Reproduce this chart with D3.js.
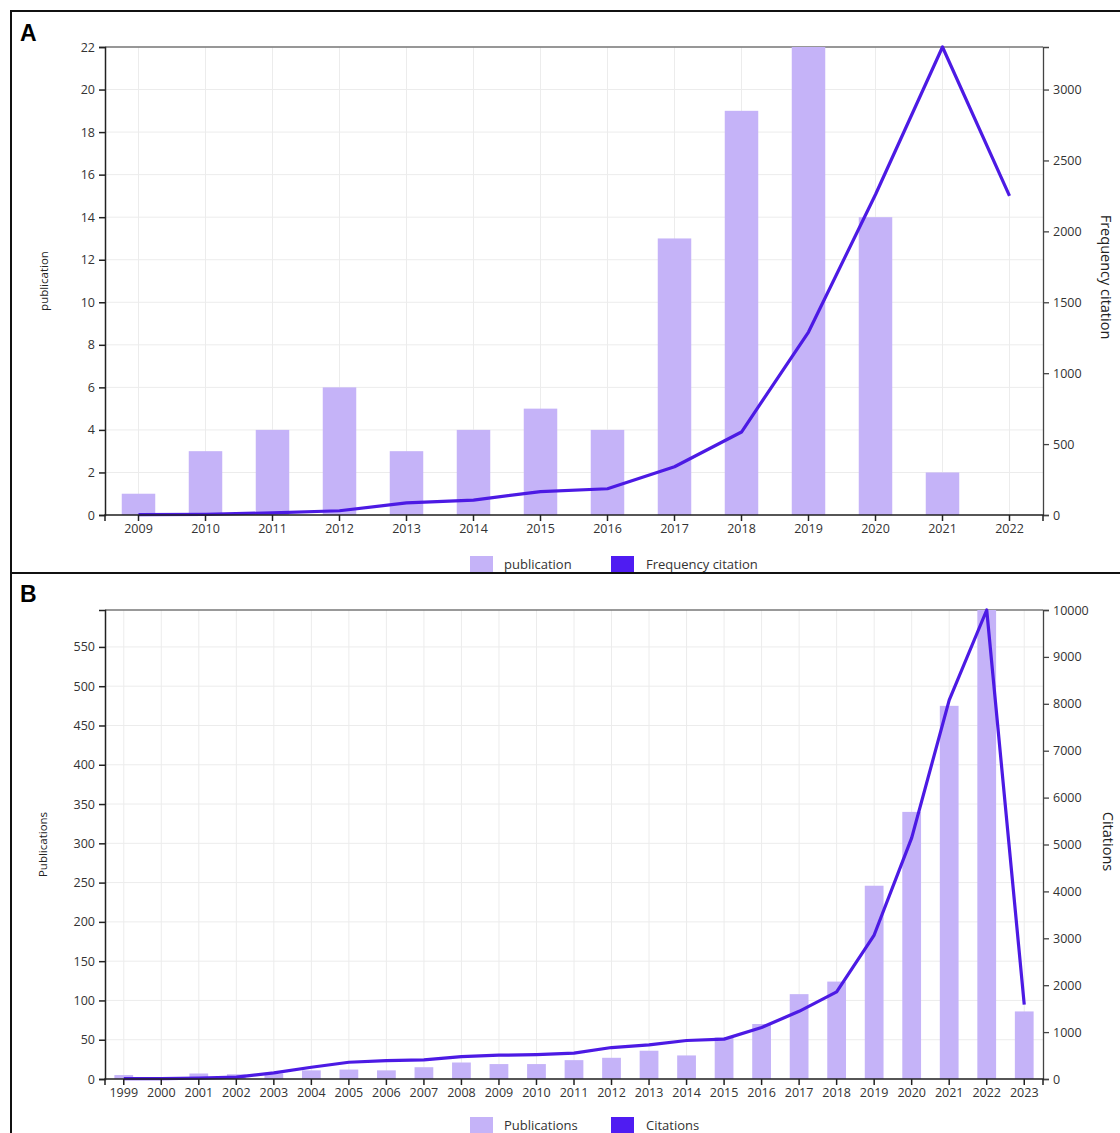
<!DOCTYPE html>
<html><head><meta charset="utf-8">
<script src="https://cdn.jsdelivr.net/npm/d3@7"></script>
<style>body{margin:0;background:#fff}svg{display:block}text{font-family:"Open Sans",sans-serif}</style>
</head><body><svg id="c" width="1120" height="1133"></svg>
<script>
const yearsA = ["2009","2010","2011","2012","2013","2014","2015","2016","2017","2018","2019","2020","2021","2022"];
const pubsA = [1,3,4,6,3,4,5,4,13,19,22,14,2,0];
const citesA = [2,5,15,30,85,105,165,185,340,585,1290,2260,3300,2250];
const leftTicksA = [0,2,4,6,8,10,12,14,16,18,20,22];
const rightTicksA = [0,500,1000,1500,2000,2500,3000];

const yearsB = ["1999","2000","2001","2002","2003","2004","2005","2006","2007","2008","2009","2010","2011","2012","2013","2014","2015","2016","2017","2018","2019","2020","2021","2022","2023"];
const pubsB = [5,1,7,6,7,11,12,11,15,21,19,19,24,27,36,30,53,70,108,124,246,340,475,597,86];
const citesB = [10,10,20,40,130,250,357,393,407,478,507,521,550,671,729,821,850,1100,1443,1857,3070,5140,8080,10000,1586];
const leftTicksB = [0,50,100,150,200,250,300,350,400,450,500,550];
const rightTicksB = [0,1000,2000,3000,4000,5000,6000,7000,8000,9000,10000];

const BAR = "#c5b3f8", LINE = "#4c1ae4";
const svg = d3.select("#c");

// panel frames
svg.append("rect").attr("x",11).attr("y",11).attr("width",1120).attr("height",562).attr("fill","none").attr("stroke","#111").attr("stroke-width",2);
svg.append("rect").attr("x",11).attr("y",573).attr("width",1120).attr("height",600).attr("fill","none").attr("stroke","#111").attr("stroke-width",2);

function panel(o){
  const g = svg.append("g");
  const x = d3.scaleBand().domain(o.years).range([o.x0,o.x1]).paddingInner(0.5).paddingOuter(0.25);
  const yL = d3.scaleLinear().domain([0,o.lmax]).range([o.yb,o.yt]);
  const yR = d3.scaleLinear().domain([0,o.rmax]).range([o.yb,o.yt]);
  // grid
  g.append("g").selectAll("line").data(o.lticks).join("line")
    .attr("x1",o.x0).attr("x2",o.x1).attr("y1",d=>yL(d)).attr("y2",d=>yL(d))
    .attr("stroke","#ececec");
  g.append("g").selectAll("line").data(o.years).join("line")
    .attr("x1",d=>x(d)+x.bandwidth()/2).attr("x2",d=>x(d)+x.bandwidth()/2)
    .attr("y1",o.yt).attr("y2",o.yb).attr("stroke","#ececec");
  // top line
  g.append("line").attr("x1",o.x0).attr("x2",o.x1).attr("y1",o.yt).attr("y2",o.yt).attr("stroke","#777").attr("stroke-width",1.3);
  // bars
  g.append("g").selectAll("rect").data(o.pubs).join("rect")
    .attr("x",(d,i)=>x(o.years[i])).attr("width",x.bandwidth())
    .attr("y",d=>yL(d)).attr("height",d=>o.yb-yL(d)).attr("fill",BAR);
  // line
  const line = d3.line().x((d,i)=>x(o.years[i])+x.bandwidth()/2).y(d=>yR(d));
  g.append("path").datum(o.cites).attr("d",line).attr("fill","none").attr("stroke",LINE).attr("stroke-width",3.2).attr("stroke-linejoin","round");
  // axes
  const ax = (sel)=>{sel.selectAll("text").attr("font-size",12.5).attr("fill","#333").style("font-family","'Open Sans',sans-serif");};
  g.append("g").attr("transform",`translate(${o.x0},0)`).call(d3.axisLeft(yL).tickValues(o.lticks).tickFormat(d3.format("d")).tickSize(6).tickPadding(4)).call(ax)
    .call(s=>s.selectAll("path,line").attr("stroke","#222").attr("stroke-width",1.5));
  g.append("g").attr("transform",`translate(${o.x1},0)`).call(d3.axisRight(yR).tickValues(o.rticks).tickFormat(d3.format("d")).tickSize(6).tickPadding(4)).call(ax)
    .call(s=>s.selectAll("path,line").attr("stroke","#444").attr("stroke-width",1.3));
  g.append("g").attr("transform",`translate(0,${o.yb})`).call(d3.axisBottom(x).tickSize(6).tickPadding(3)).call(ax)
    .call(s=>s.select(".domain").attr("d",`M${o.x0},6V0H${o.x1}V6`))
    .call(s=>s.selectAll("path,line").attr("stroke","#222").attr("stroke-width",1.5));
  // axis titles
  g.append("text").attr("transform",`translate(${o.lx},${(o.yt+o.yb)/2}) rotate(-90)`).attr("text-anchor","middle")
    .attr("font-size",11.5).attr("fill","#222").text(o.ltitle);
  g.append("text").attr("transform",`translate(${o.rx},${(o.yt+o.yb)/2 + o.roff}) rotate(90)`).attr("text-anchor","middle")
    .attr("font-size",14.5).attr("fill","#222").text(o.rtitle);
  // panel letter
  g.append("text").attr("x",20).attr("y",o.letterY).attr("font-size",23).attr("font-weight","bold")
    .style("font-family","'Liberation Sans',Arial,sans-serif").attr("fill","#000").text(o.letter);
  // legend
  const lg = g.append("g").attr("transform",`translate(0,${o.legY})`);
  lg.append("rect").attr("x",470).attr("y",-8).attr("width",23).attr("height",16).attr("fill",BAR);
  lg.append("text").attr("x",504).attr("y",5).attr("font-size",13).attr("fill","#333").text(o.ltitleLeg);
  lg.append("rect").attr("x",611).attr("y",-8).attr("width",23).attr("height",16).attr("fill","#4f1cf2");
  lg.append("text").attr("x",646).attr("y",5).attr("font-size",13).attr("fill","#333").text(o.rtitleLeg);
}

panel({years:yearsA,pubs:pubsA,cites:citesA,lticks:leftTicksA,rticks:rightTicksA,lmax:22,rmax:3300,
  x0:105,x1:1043,yt:47,yb:515,lx:48,rx:1101,roff:-4,ltitle:"publication",rtitle:"Frequency citation",
  letter:"A",letterY:41,legY:564,ltitleLeg:"publication",rtitleLeg:"Frequency citation"});
panel({years:yearsB,pubs:pubsB,cites:citesB,lticks:leftTicksB,rticks:rightTicksB,lmax:597,rmax:10000,
  x0:105,x1:1043,yt:610,yb:1079,lx:47,rx:1103,roff:-3,ltitle:"Publications",rtitle:"Citations",
  letter:"B",letterY:602,legY:1125,ltitleLeg:"Publications",rtitleLeg:"Citations"});
</script></body></html>
